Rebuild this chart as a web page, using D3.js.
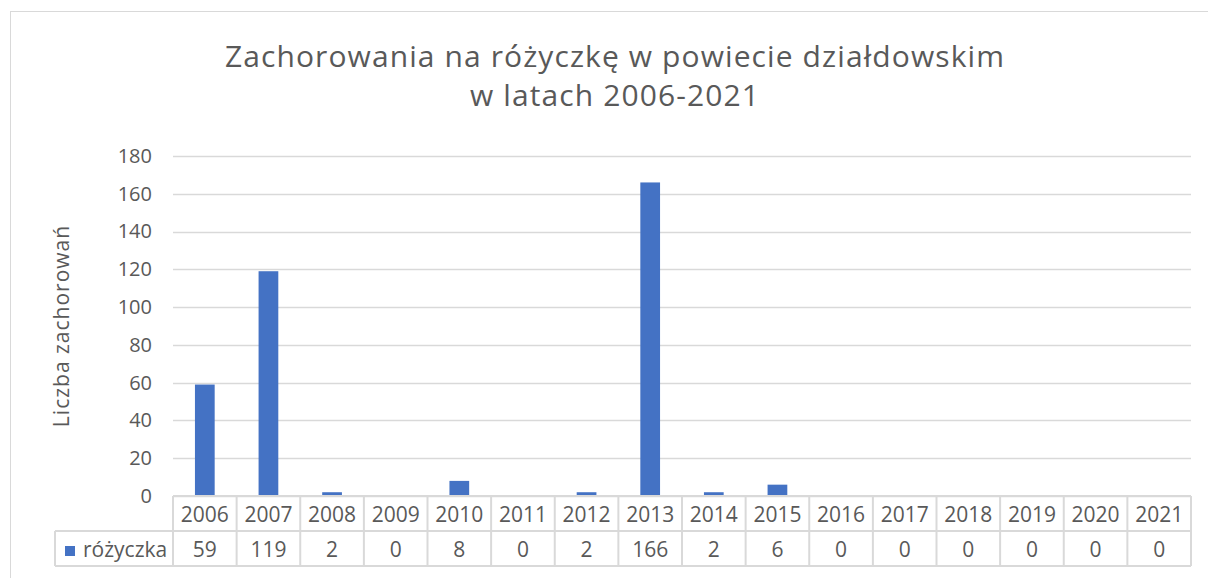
<!DOCTYPE html>
<html>
<head>
<meta charset="utf-8">
<script src="https://cdn.jsdelivr.net/npm/d3@7"></script>
<style>
  body { margin: 0; background: #fff; }
  text { font-family: "Open Sans", sans-serif; fill: #595959; }
</style>
</head>
<body>
<div id="chart"></div>
<script>
var years = ["2006","2007","2008","2009","2010","2011","2012","2013","2014","2015","2016","2017","2018","2019","2020","2021"];
var cases = [59, 119, 2, 0, 8, 0, 2, 166, 2, 6, 0, 0, 0, 0, 0, 0];
var yTicks = [0, 20, 40, 60, 80, 100, 120, 140, 160, 180];
var seriesName = "różyczka";
var titleLines = ["Zachorowania na różyczkę w powiecie działdowskim", "w latach 2006-2021"];
var yLabel = "Liczba zachorowań";

var W = 1208, H = 578;
var plot = { left: 173, right: 1191, top: 156, bottom: 496 };
var rowH = 35;
var tableLeft = 55;
var blue = "#4472C4", grid = "#d9d9d9";

var svg = d3.select("#chart").append("svg")
    .attr("width", W)
    .attr("height", H);

// outer chart border
svg.append("rect")
    .attr("x", 10.5).attr("y", 11.5)
    .attr("width", W + 10).attr("height", H)
    .attr("fill", "#fff")
    .attr("stroke", grid);

var x = d3.scaleBand()
    .domain(years)
    .range([plot.left, plot.right])
    .paddingInner(0.69)
    .paddingOuter(0.345);

var col = d3.scaleBand()
    .domain(years)
    .range([plot.left, plot.right]);

var y = d3.scaleLinear()
    .domain([0, 180])
    .range([plot.bottom, plot.top]);

// title
svg.append("text")
    .attr("x", 615)
    .attr("y", 67)
    .attr("text-anchor", "middle")
    .attr("font-size", "30px")
    .attr("letter-spacing", "1.1px")
    .selectAll("tspan")
    .data(titleLines)
    .enter().append("tspan")
    .attr("x", 615)
    .attr("dy", (d, i) => i ? 39 : 0)
    .text(d => d);

// gridlines
svg.append("g")
    .selectAll("line")
    .data(yTicks)
    .enter().append("line")
    .attr("x1", plot.left).attr("x2", plot.right)
    .attr("y1", d => Math.round(y(d)) + 0.5)
    .attr("y2", d => Math.round(y(d)) + 0.5)
    .attr("stroke", grid)
    .attr("stroke-width", 1.5);

// y axis labels
var yAxis = d3.axisLeft(y).tickValues(yTicks).tickSize(0).tickPadding(21);
var ya = svg.append("g")
    .attr("transform", "translate(" + plot.left + ",0)")
    .call(yAxis);
ya.select(".domain").remove();
ya.selectAll("text")
    .attr("font-size", "20px")
    .attr("fill", "#595959")
    .style("font-family", "'Open Sans', sans-serif");

svg.append("text")
    .attr("transform", "translate(69," + 326 + ") rotate(-90)")
    .attr("text-anchor", "middle")
    .attr("font-size", "21px")
    .attr("letter-spacing", "1px")
    .text(yLabel);

// bars
svg.append("g")
    .selectAll("rect")
    .data(cases)
    .enter().append("rect")
    .attr("x", (d, i) => x(years[i]))
    .attr("width", x.bandwidth())
    .attr("y", d => y(d))
    .attr("height", d => y(0) - y(d))
    .attr("fill", blue);

// data table
var table = svg.append("g");
var tTop = plot.bottom, tMid = plot.bottom + rowH, tBot = plot.bottom + 2 * rowH;

table.append("line")
    .attr("x1", plot.left).attr("x2", plot.right)
    .attr("y1", tTop).attr("y2", tTop)
    .attr("stroke", grid).attr("stroke-width", 2);
table.append("line")
    .attr("x1", tableLeft).attr("x2", plot.right)
    .attr("y1", tMid).attr("y2", tMid)
    .attr("stroke", grid).attr("stroke-width", 2);
table.append("line")
    .attr("x1", tableLeft).attr("x2", plot.right)
    .attr("y1", tBot).attr("y2", tBot)
    .attr("stroke", grid).attr("stroke-width", 2);
table.append("line")
    .attr("x1", tableLeft).attr("x2", tableLeft)
    .attr("y1", tMid).attr("y2", tBot)
    .attr("stroke", grid).attr("stroke-width", 2);

table.selectAll(".vline")
    .data(years.concat(["end"]))
    .enter().append("line")
    .attr("class", "vline")
    .attr("x1", (d, i) => i < years.length ? col(d) : plot.right)
    .attr("x2", (d, i) => i < years.length ? col(d) : plot.right)
    .attr("y1", tTop).attr("y2", tBot)
    .attr("stroke", grid).attr("stroke-width", 2);

table.selectAll(".yearText")
    .data(years)
    .enter().append("text")
    .attr("class", "yearText")
    .attr("x", d => col(d) + col.bandwidth() / 2)
    .attr("y", tTop + 26)
    .attr("text-anchor", "middle")
    .attr("font-size", "21px")
    .text(d => d);

table.selectAll(".valText")
    .data(cases)
    .enter().append("text")
    .attr("class", "valText")
    .attr("x", (d, i) => col(years[i]) + col.bandwidth() / 2)
    .attr("y", tMid + 26)
    .attr("text-anchor", "middle")
    .attr("font-size", "21px")
    .text(d => d);

table.append("rect")
    .attr("x", 65).attr("y", tMid + 15)
    .attr("width", 10).attr("height", 10)
    .attr("fill", blue);

table.append("text")
    .attr("x", 83)
    .attr("y", tMid + 26)
    .attr("font-size", "21px")
    .text(seriesName);
</script>
</body>
</html>
